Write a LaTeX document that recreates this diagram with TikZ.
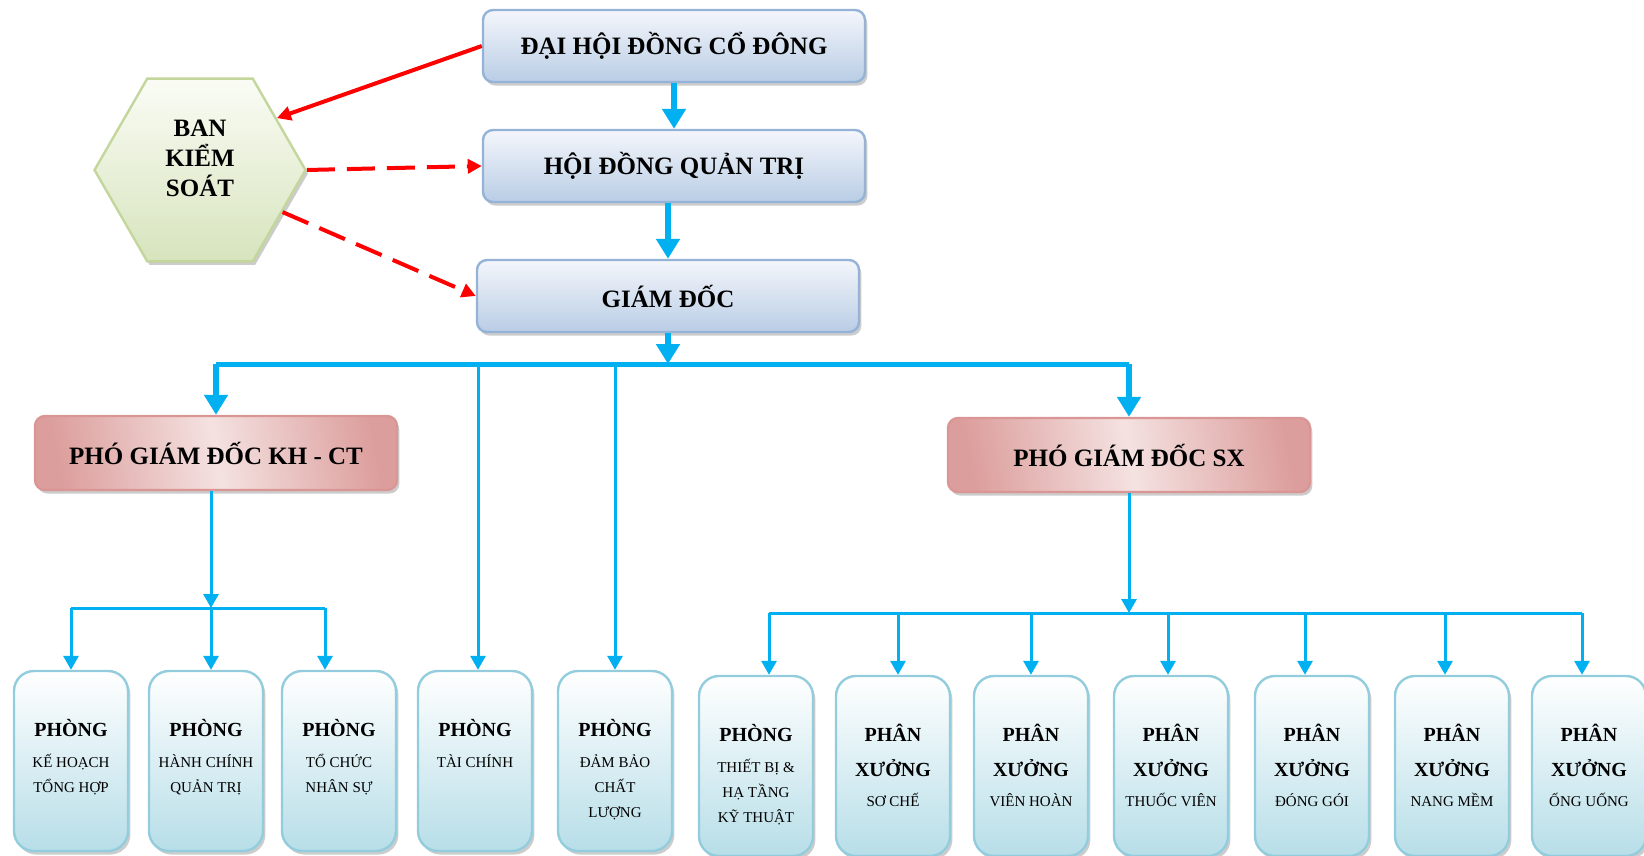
\documentclass[tikz,border=0pt]{standalone}
\usepackage{fontspec}
\setmainfont{Liberation Serif}
\usetikzlibrary{arrows.meta,shapes.geometric,shadows}

\definecolor{hdborder}{HTML}{95B3D7}
\definecolor{hdtop}{HTML}{F4F6FB}
\definecolor{hdbot}{HTML}{B9CDE5}
\definecolor{pkborder}{HTML}{D99694}
\definecolor{pklight}{HTML}{F4E2E1}
\definecolor{pkdark}{HTML}{D99694}
\definecolor{dpborder}{HTML}{93CDDD}
\definecolor{dpbot}{HTML}{B7DEE8}
\definecolor{hxborder}{HTML}{C3D69B}
\definecolor{hxtop}{HTML}{FAFCF5}
\definecolor{hxbot}{HTML}{D7E4BD}
\definecolor{arrowblue}{HTML}{00B0F0}
\definecolor{ctrlred}{HTML}{FF0000}

\newcommand\dname[1]{{\fontsize{10}{12}\selectfont\bfseries #1}}

\tikzset{
  boxshadow/.style={drop shadow={shadow xshift=1.2pt,shadow yshift=-1.8pt,fill=black!40}},
  topbox/.style={draw=hdborder, line width=1.2pt, rounded corners=5pt,
    top color=hdtop, bottom color=hdbot, minimum width=191pt, minimum height=36pt,
    font=\fontsize{12.5}{15}\selectfont\bfseries, boxshadow},
  vicebox/.style={draw=pkborder, line width=1.2pt, rounded corners=5pt,
    top color=pkdark!90!pklight, bottom color=pkdark!90!pklight, middle color=pklight, shading angle=-80,
    minimum width=181pt, minimum height=37pt,
    font=\fontsize{12.5}{15}\selectfont\bfseries, boxshadow},
  deptbox/.style={draw=dpborder, line width=1.2pt, rounded corners=10pt,
    top color=white, bottom color=dpbot, minimum width=57pt, minimum height=90pt, boxshadow},
  depttext/.style={anchor=north, inner sep=0pt, align=center, font=\fontsize{7.5}{12.5}\selectfont},
  hexbox/.style={regular polygon, regular polygon sides=6, minimum size=105.5pt, inner sep=0pt,
    draw=hxborder, line width=1.2pt, top color=hxtop, bottom color=hxbot, boxshadow},
  bigarrow/.style={draw=arrowblue, line width=3pt, -{Triangle[width=11.5pt,length=10pt]}},
  busline/.style={draw=arrowblue, line width=2.5pt},
  thinline/.style={draw=arrowblue, line width=1.5pt},
  thinarrow/.style={thinline, -{Triangle[width=7.5pt,length=7pt]}},
  redarrow/.style={draw=ctrlred, line width=2pt, -{Triangle[width=7pt,length=7pt]}},
  reddash/.style={redarrow, dash pattern=on 14pt off 6pt},
}

\begin{document}
\begin{tikzpicture}[x=0.5pt,y=-0.5pt]
  \useasboundingbox (0,0) rectangle (1644,856);

  % board level
  \node[topbox] (dh) at (674,46) {ĐẠI HỘI ĐỒNG CỔ ĐÔNG};
  \node[topbox] (hdqt) at (674,166) {HỘI ĐỒNG QUẢN TRỊ};
  \node[topbox] (gd) at (668,296) {GIÁM ĐỐC};

  \node[hexbox] (bks) at (200,170) {};
  \node[align=center, inner sep=0pt, font=\fontsize{12.5}{15}\selectfont\bfseries] (bkst) at (200,158) {BAN\\KIỂM\\SOÁT};

  % vice directors
  \node[vicebox] (pkh) at (216,453) {PHÓ GIÁM ĐỐC KH - CT};
  \node[vicebox] (psx) at (1129,455) {PHÓ GIÁM ĐỐC SX};

  % departments
  \node[deptbox] (p1) at (71,761) {};
  \node[deptbox] (p2) at (206,761) {};
  \node[deptbox] (p3) at (339,761) {};
  \node[deptbox] (p4) at (475,761) {};
  \node[deptbox] (p5) at (615,761) {};

  \node[depttext] (p1t) at ([yshift=-24.5pt]p1.north) {\dname{PHÒNG}\\[3pt] KẾ HOẠCH\\ TỔNG HỢP};
  \node[depttext] (p2t) at ([yshift=-24.5pt]p2.north) {\dname{PHÒNG}\\[3pt] HÀNH CHÍNH\\ QUẢN TRỊ};
  \node[depttext] (p3t) at ([yshift=-24.5pt]p3.north) {\dname{PHÒNG}\\[3pt] TỔ CHỨC\\ NHÂN SỰ};
  \node[depttext] (p4t) at ([yshift=-24.5pt]p4.north) {\dname{PHÒNG}\\[3pt] TÀI CHÍNH};
  \node[depttext] (p5t) at ([yshift=-24.5pt]p5.north) {\dname{PHÒNG}\\[3pt] ĐẢM BẢO\\ CHẤT\\ LƯỢNG};

  % workshops
  \node[deptbox] (s1) at (756,766) {};
  \node[deptbox] (s2) at (893,766) {};
  \node[deptbox] (s3) at (1031,766) {};
  \node[deptbox] (s4) at (1171,766) {};
  \node[deptbox] (s5) at (1312,766) {};
  \node[deptbox] (s6) at (1452,766) {};
  \node[deptbox] (s7) at (1589,766) {};

  \node[depttext] (s1t) at ([yshift=-24.5pt]s1.north) {\dname{PHÒNG}\\[3pt] THIẾT BỊ \&\\ HẠ TẦNG\\ KỸ THUẬT};
  \node[depttext] (s2t) at ([yshift=-24.5pt]s2.north) {\dname{PHÂN}\\[5pt] \dname{XƯỞNG}\\[2.5pt] SƠ CHẾ};
  \node[depttext] (s3t) at ([yshift=-24.5pt]s3.north) {\dname{PHÂN}\\[5pt] \dname{XƯỞNG}\\[2.5pt] VIÊN HOÀN};
  \node[depttext] (s4t) at ([yshift=-24.5pt]s4.north) {\dname{PHÂN}\\[5pt] \dname{XƯỞNG}\\[2.5pt] THUỐC VIÊN};
  \node[depttext] (s5t) at ([yshift=-24.5pt]s5.north) {\dname{PHÂN}\\[5pt] \dname{XƯỞNG}\\[2.5pt] ĐÓNG GÓI};
  \node[depttext] (s6t) at ([yshift=-24.5pt]s6.north) {\dname{PHÂN}\\[5pt] \dname{XƯỞNG}\\[2.5pt] NANG MỀM};
  \node[depttext] (s7t) at ([yshift=-24.5pt]s7.north) {\dname{PHÂN}\\[5pt] \dname{XƯỞNG}\\[2.5pt] ỐNG UỐNG};

  % control lines
  \draw[redarrow] (dh.west) -- (bks.34);
  \draw[reddash] (bks.east) -- (hdqt.west);
  \draw[reddash] (bks.-27) -- (gd.west);

  % main chain
  \coordinate (busA) at (668,364);
  \coordinate (busB) at (211,608);
  \coordinate (busC) at (1129,613);

  \draw[bigarrow] (dh.south) -- (hdqt.north);
  \draw[bigarrow] (hdqt.south -| gd.north) -- (gd.north);
  \draw[bigarrow] (gd.south) -- (busA);
  \draw[busline] (pkh.north |- busA) -- (psx.north |- busA);
  \draw[bigarrow] (pkh.north |- busA) -- (pkh.north);
  \draw[bigarrow] (psx.north |- busA) -- (psx.north);
  \draw[thinarrow] ([xshift=1.5pt]p4.north |- busA) -- ([xshift=1.5pt]p4.north);
  \draw[thinarrow] (p5.north |- busA) -- (p5.north);

  % KH - CT branch
  \draw[thinarrow] (pkh.south -| busB) -- (busB);
  \draw[thinline] (p1.north |- busB) -- ([xshift=-7pt]p3.north |- busB);
  \foreach \i/\dx in {1/0,2/2.5,3/-7}
    \draw[thinarrow] ([xshift=\dx pt]p\i.north |- busB) -- ([xshift=\dx pt]p\i.north);

  % SX branch
  \draw[thinarrow] (psx.south) -- (busC);
  \draw[thinline] ([xshift=6.5pt]s1.north |- busC) -- ([xshift=-3.5pt]s7.north |- busC);
  \foreach \i/\dx in {1/6.5,2/2.5,3/0,4/-1.5,5/-3.5,6/-3.5,7/-3.5}
    \draw[thinarrow] ([xshift=\dx pt]s\i.north |- busC) -- ([xshift=\dx pt]s\i.north);
\end{tikzpicture}
\end{document}
